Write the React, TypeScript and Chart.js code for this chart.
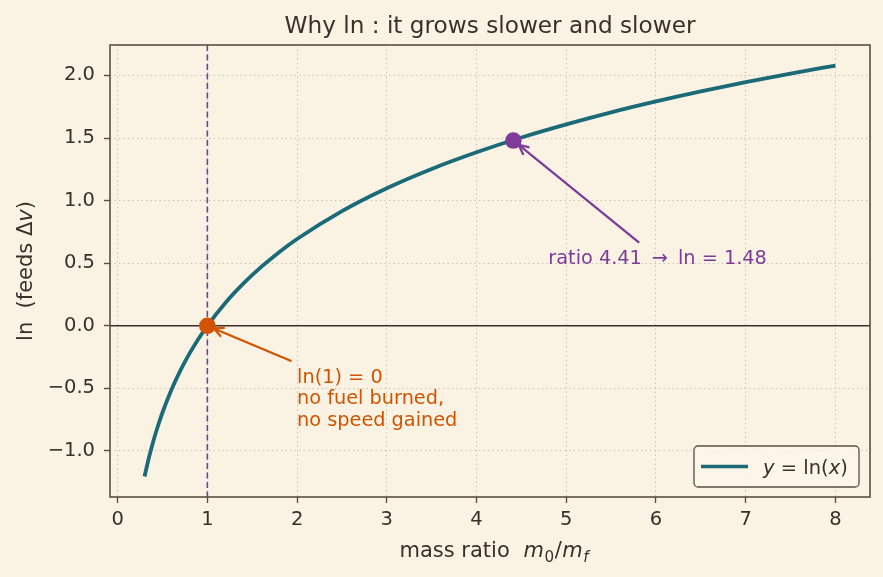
import React, { useEffect, useRef } from 'react';
import { Chart, registerables } from 'chart.js';

Chart.register(...registerables);

// y = ln(x) sampled along the mass ratio axis
const massRatio = [0.3, 0.35, 0.4, 0.45, 0.5, 0.6, 0.7, 0.8, 0.9, 1.0, 1.2, 1.4, 1.6, 1.8, 2.0, 2.5, 3.0, 3.5, 4.0, 4.5, 5.0, 5.5, 6.0, 6.5, 7.0, 7.5, 8.0];
const lnValue = [-1.204, -1.05, -0.916, -0.799, -0.693, -0.511, -0.357, -0.223, -0.105, 0.0, 0.182, 0.336, 0.47, 0.588, 0.693, 0.916, 1.099, 1.253, 1.386, 1.504, 1.609, 1.705, 1.792, 1.872, 1.946, 2.015, 2.079];

// highlighted points
const refPoint = { x: 1, y: 0 };
const highlightPoint = { x: 4.41, y: 1.48 };

// axes
const xTicks = [0, 1, 2, 3, 4, 5, 6, 7, 8];
const yTicks = [-1.0, -0.5, 0.0, 0.5, 1.0, 1.5, 2.0];
const xRange = [-0.085, 8.385];
const yRange = [-1.368, 2.243];

// annotation anchors (data units)
const refNoteAt = { x: 2.0, y: -0.455 };
const refArrowFrom = { x: 1.928, y: -0.279 };
const highlightNoteAt = { x: 4.8, y: 0.494 };
const highlightArrowFrom = { x: 5.805, y: 0.669 };

const refNoteLines = ['ln(1) = 0', 'no fuel burned,', 'no speed gained'];
const highlightNote = 'ratio 4.41 \u2009\u2192\u2009 ln = 1.48';

const BG = '#faf3e3';
const INK = '#3a3029';
const FRAME = '#5b4f42';
const GRID = '#c6bdab';
const TEAL = '#1a6a78';
const ORANGE = '#d35400';
const PURPLE = '#7d3c98';
const FONT = "'DejaVu Sans', sans-serif";

type Run = { t: string; italic?: boolean; sub?: boolean };

function setRunFont(ctx: CanvasRenderingContext2D, r: Run, size: number) {
  const s = r.sub ? size * 0.72 : size;
  ctx.font = `${r.italic ? 'italic ' : ''}${s}px ${FONT}`;
}

function runsWidth(ctx: CanvasRenderingContext2D, runs: Run[], size: number, gap: number) {
  let w = 0;
  for (const r of runs) {
    setRunFont(ctx, r, size);
    w += ctx.measureText(r.t).width + gap;
  }
  return w - gap;
}

function drawRuns(ctx: CanvasRenderingContext2D, runs: Run[], x: number, y: number, size: number, color: string, align: 'left' | 'center', gap = 0) {
  let cx = align === 'center' ? x - runsWidth(ctx, runs, size, gap) / 2 : x;
  ctx.fillStyle = color;
  ctx.textAlign = 'left';
  ctx.textBaseline = 'alphabetic';
  for (const r of runs) {
    setRunFont(ctx, r, size);
    ctx.fillText(r.t, cx, r.sub ? y + size * 0.22 : y);
    cx += ctx.measureText(r.t).width + gap;
  }
}

function drawArrow(ctx: CanvasRenderingContext2D, x0: number, y0: number, x1: number, y1: number, color: string) {
  const ang = Math.atan2(y1 - y0, x1 - x0);
  const head = 10;
  const spread = 0.45;
  ctx.save();
  ctx.strokeStyle = color;
  ctx.lineWidth = 2.3;
  ctx.lineCap = 'round';
  ctx.lineJoin = 'round';
  ctx.beginPath();
  ctx.moveTo(x0, y0);
  ctx.lineTo(x1, y1);
  ctx.stroke();
  ctx.beginPath();
  ctx.moveTo(x1 - head * Math.cos(ang - spread), y1 - head * Math.sin(ang - spread));
  ctx.lineTo(x1, y1);
  ctx.lineTo(x1 - head * Math.cos(ang + spread), y1 - head * Math.sin(ang + spread));
  ctx.stroke();
  ctx.restore();
}

const decor = {
  id: 'decor',
  beforeDraw(chart: any) {
    const { ctx, width, height } = chart;
    ctx.save();
    ctx.fillStyle = BG;
    ctx.fillRect(0, 0, width, height);
    ctx.restore();
  },
  beforeDatasetsDraw(chart: any) {
    const { ctx, chartArea: a, scales } = chart;
    const x = scales.x, y = scales.y;
    ctx.save();
    ctx.beginPath();
    ctx.rect(a.left, a.top, a.right - a.left, a.bottom - a.top);
    ctx.clip();
    // baseline y = 0
    const y0 = y.getPixelForValue(refPoint.y);
    ctx.strokeStyle = INK;
    ctx.lineWidth = 1.4;
    ctx.beginPath();
    ctx.moveTo(a.left, y0);
    ctx.lineTo(a.right, y0);
    ctx.stroke();
    // dashed marker at x = 1
    const x1 = x.getPixelForValue(refPoint.x);
    ctx.strokeStyle = PURPLE;
    ctx.lineWidth = 1.6;
    ctx.setLineDash([6, 3.5]);
    ctx.beginPath();
    ctx.moveTo(x1, a.top);
    ctx.lineTo(x1, a.bottom);
    ctx.stroke();
    ctx.restore();
  },
  afterDatasetsDraw(chart: any) {
    const { ctx, scales } = chart;
    const x = scales.x, y = scales.y;
    const px = (p: { x: number; y: number }) => [x.getPixelForValue(p.x), y.getPixelForValue(p.y)];

    const shrinkTo = (from: number[], to: number[], d: number) => {
      const dx = from[0] - to[0], dy = from[1] - to[1];
      const L = Math.hypot(dx, dy);
      return [to[0] + (dx / L) * d, to[1] + (dy / L) * d];
    };

    // arrow + note for ln(1) = 0
    const rFrom = px(refArrowFrom);
    const rTo = shrinkTo(rFrom, px(refPoint), 7);
    drawArrow(ctx, rFrom[0], rFrom[1], rTo[0], rTo[1], ORANGE);
    const rn = px(refNoteAt);
    refNoteLines.forEach((line, i) => {
      drawRuns(ctx, [{ t: line }], rn[0], rn[1] + i * 21.5, 19.3, ORANGE, 'left');
    });

    // arrow + note for the highlighted ratio
    const hFrom = px(highlightArrowFrom);
    const hTo = shrinkTo(hFrom, px(highlightPoint), 7);
    drawArrow(ctx, hFrom[0], hFrom[1], hTo[0], hTo[1], PURPLE);
    const hn = px(highlightNoteAt);
    drawRuns(ctx, [{ t: highlightNote }], hn[0], hn[1], 19.3, PURPLE, 'left');
  },
  afterDraw(chart: any) {
    const { ctx, chartArea: a } = chart;
    ctx.save();
    // frame
    ctx.strokeStyle = FRAME;
    ctx.lineWidth = 1.6;
    ctx.strokeRect(a.left, a.top, a.right - a.left, a.bottom - a.top);

    // legend
    const lw = 165, lh = 41;
    const lx = a.right - 11 - lw, ly = a.bottom - 10 - lh;
    ctx.beginPath();
    ctx.roundRect(lx, ly, lw, lh, 4);
    ctx.fillStyle = 'rgba(251,246,234,0.85)';
    ctx.fill();
    ctx.strokeStyle = FRAME;
    ctx.lineWidth = 1.3;
    ctx.stroke();
    ctx.strokeStyle = TEAL;
    ctx.lineWidth = 3.5;
    ctx.beginPath();
    ctx.moveTo(lx + 7, ly + lh / 2);
    ctx.lineTo(lx + 54, ly + lh / 2);
    ctx.stroke();
    drawRuns(ctx, [{ t: 'y', italic: true }, { t: ' = ln(' }, { t: 'x', italic: true }, { t: ')' }], lx + 69, ly + lh / 2 + 7, 19.5, INK, 'left');

    const cx = (a.left + a.right) / 2;
    // title
    drawRuns(ctx, [{ t: 'Why ln : it grows slower and slower' }], cx, 33, 23.2, INK, 'center');
    // x label
    drawRuns(ctx, [
      { t: 'mass ratio  ' },
      { t: 'm', italic: true },
      { t: '0', sub: true },
      { t: '/' },
      { t: 'm', italic: true },
      { t: 'f', italic: true, sub: true },
    ], cx + 4, 557, 21, INK, 'center', 0.5);
    // y label
    ctx.translate(32, (a.top + a.bottom) / 2);
    ctx.rotate(-Math.PI / 2);
    drawRuns(ctx, [{ t: 'ln  (feeds \u0394' }, { t: 'v', italic: true }, { t: ')' }], 0, 0, 21, INK, 'center');
    ctx.restore();
  },
};

export default function App() {
  const ref = useRef<HTMLCanvasElement | null>(null);

  useEffect(() => {
    document.body.style.margin = '0';
    document.body.style.background = BG;
    const canvas = ref.current!;
    const curve = massRatio.map((m, i) => ({ x: m, y: lnValue[i] }));

    const chart = new Chart(canvas, {
      type: 'scatter',
      data: {
        datasets: [
          {
            label: 'ln(1) = 0',
            data: [refPoint],
            pointRadius: 8.3,
            pointHoverRadius: 8.3,
            backgroundColor: ORANGE,
            borderColor: ORANGE,
            borderWidth: 0,
            order: 0,
          },
          {
            label: 'ratio 4.41',
            data: [highlightPoint],
            pointRadius: 8.3,
            pointHoverRadius: 8.3,
            backgroundColor: PURPLE,
            borderColor: PURPLE,
            borderWidth: 0,
            order: 0,
          },
          {
            label: 'y = ln(x)',
            data: curve,
            showLine: true,
            borderColor: TEAL,
            borderWidth: 3.8,
            pointRadius: 0,
            cubicInterpolationMode: 'monotone',
            order: 1,
          },
        ],
      },
      options: {
        animation: false,
        responsive: false,
        events: [],
        layout: { padding: { top: 45, right: 13, left: 0, bottom: 0 } },
        plugins: {
          legend: { display: false },
          title: { display: false },
          tooltip: { enabled: false },
        },
        scales: {
          x: {
            type: 'linear',
            min: xRange[0],
            max: xRange[1],
            afterFit: (s: any) => { s.height = 80; },
            afterBuildTicks: (s: any) => { s.ticks = xTicks.map((v) => ({ value: v })); },
            ticks: {
              color: INK,
              font: { family: FONT, size: 19.5 },
              padding: 5,
              maxRotation: 0,
              callback: (v: any) => String(v),
            },
            grid: {
              color: GRID,
              lineWidth: 1,
              drawTicks: true,
              tickLength: 6,
              tickColor: FRAME,
              tickWidth: 1.4,
            },
            border: { display: false, dash: [1.3, 3.2] },
          },
          y: {
            type: 'linear',
            min: yRange[0],
            max: yRange[1],
            afterFit: (s: any) => { s.width = 110; },
            afterBuildTicks: (s: any) => { s.ticks = yTicks.map((v) => ({ value: v })); },
            ticks: {
              color: INK,
              font: { family: FONT, size: 19.5 },
              padding: 9,
              callback: (v: any) => (v < 0 ? '\u2212' : '') + Math.abs(v).toFixed(1),
            },
            grid: {
              color: GRID,
              lineWidth: 1,
              drawTicks: true,
              tickLength: 6,
              tickColor: FRAME,
              tickWidth: 1.4,
            },
            border: { display: false, dash: [1.3, 3.2] },
          },
        },
      },
      plugins: [decor],
    } as any);

    return () => chart.destroy();
  }, []);

  return <canvas ref={ref} width={883} height={577} style={{ display: 'block', width: 883, height: 577 }} />;
}
